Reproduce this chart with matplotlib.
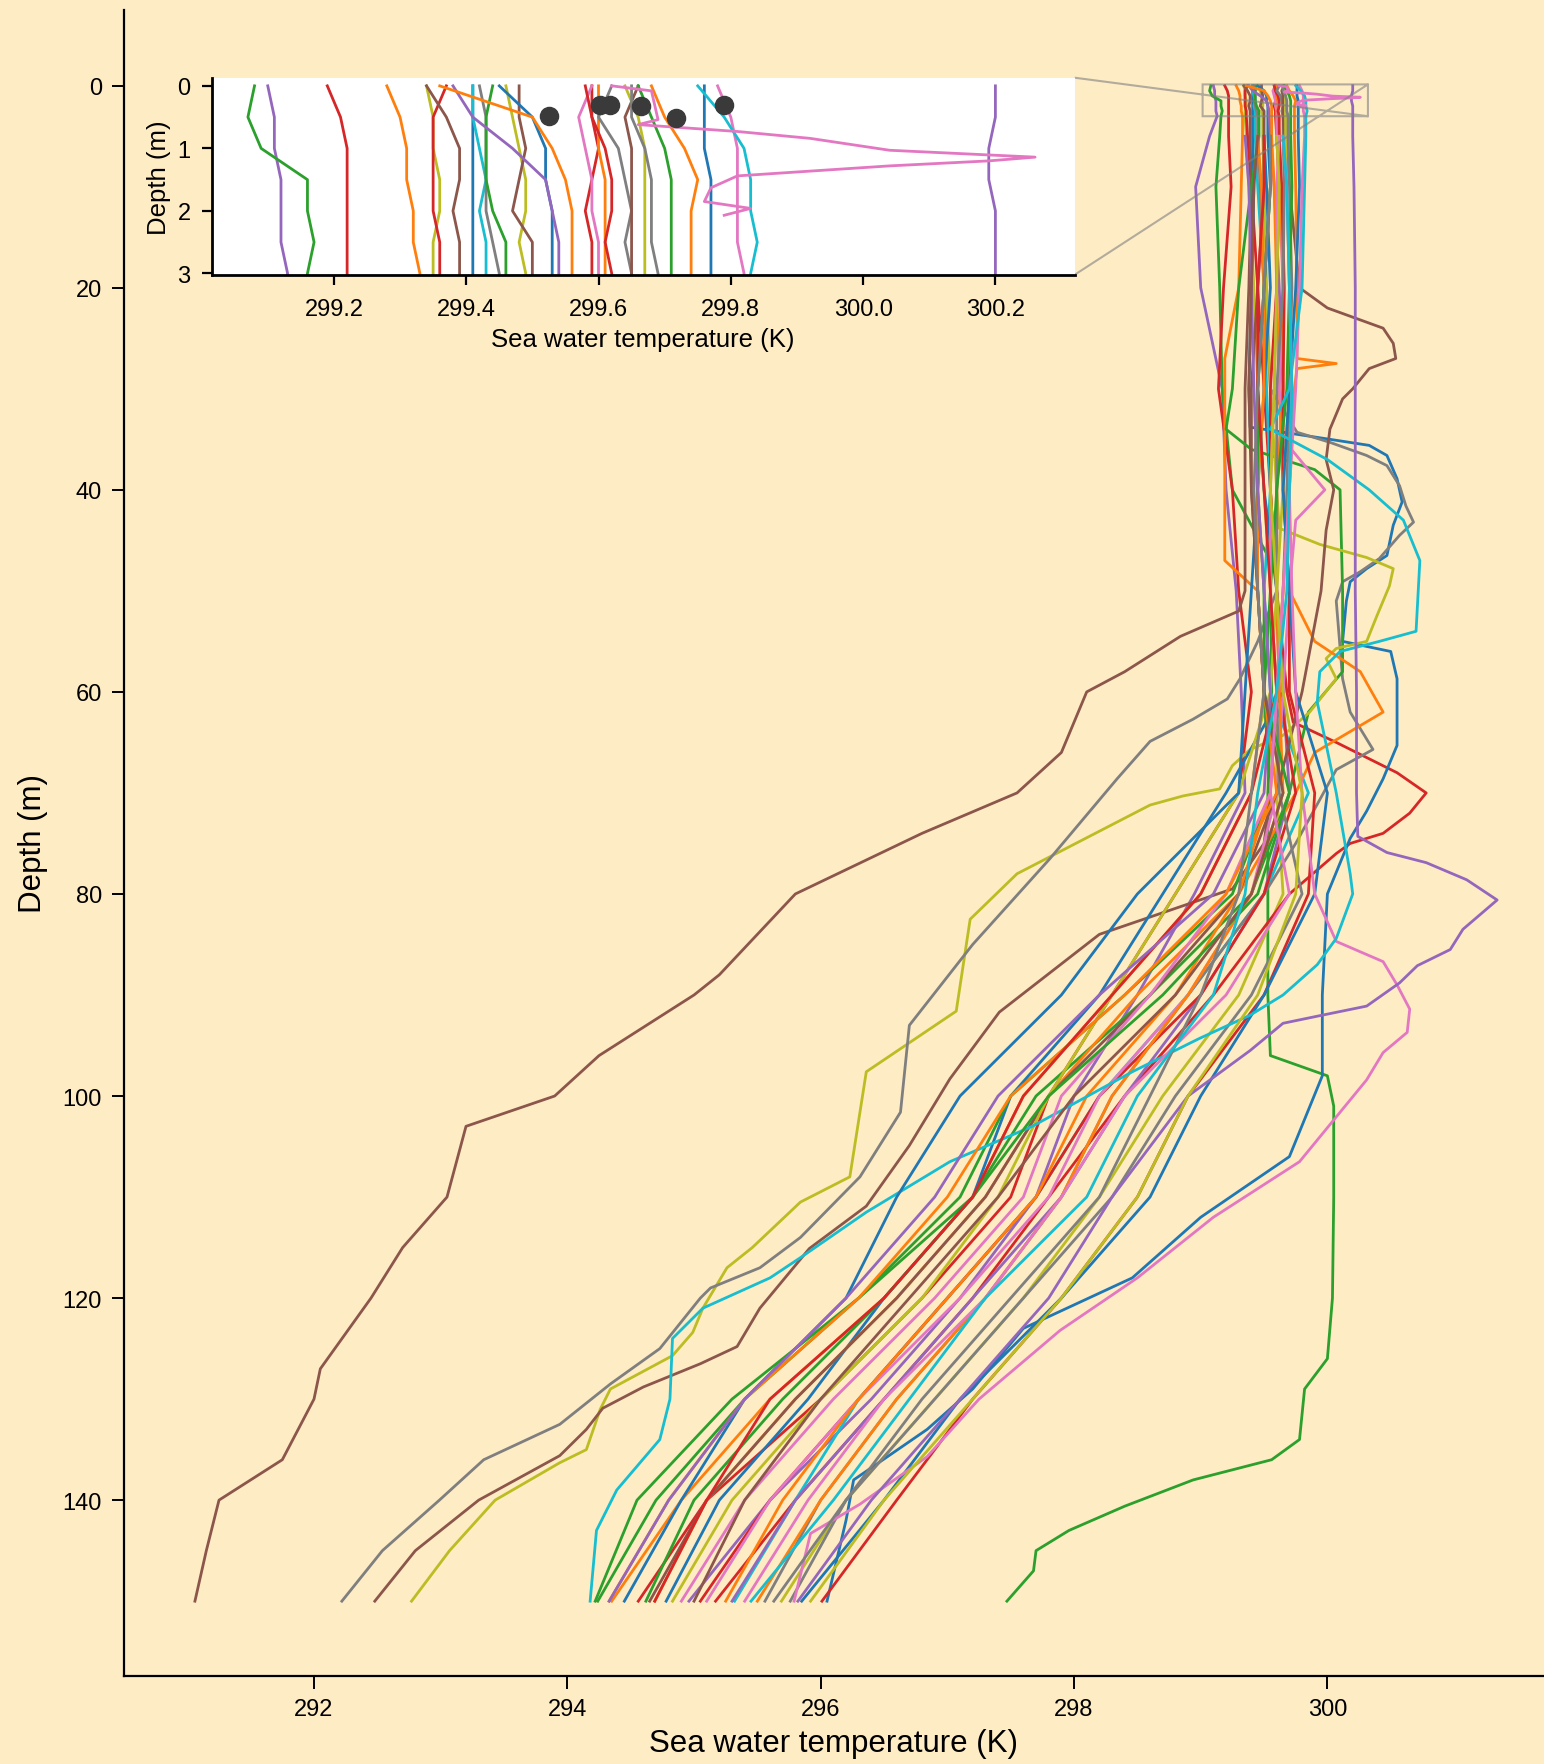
import numpy as np
import matplotlib.pyplot as plt

plt.rcParams['font.family'] = ['Liberation Sans', 'DejaVu Sans']

BG = '#FEECC5'

# depth levels (m)
surf_z = [0, 0.5, 1, 1.5, 2, 2.5, 3]
deep_z = [5, 10, 20, 30, 40, 50, 60, 70, 80, 90, 100, 110, 120, 130, 140, 150]

# ---- profiles on the standard levels: surface (0-3 m) and deep (5-150 m), K ----
purple_a_s = [299.10, 299.11, 299.11, 299.12, 299.12, 299.12, 299.13]
purple_a_d = [299.07, 298.96, 299.00, 299.17, 299.20, 299.28, 299.32, 299.35, 298.95, 298.50, 298.00, 297.70, 297.10, 296.40, 295.60, 294.96]
red_a_s = [299.19, 299.21, 299.22, 299.22, 299.22, 299.22, 299.22]
red_a_d = [299.22, 299.24, 299.18, 299.14, 299.25, 299.30, 299.40, 299.30, 298.80, 298.30, 297.80, 297.50, 296.80, 296.00, 295.10, 294.56]
olive_a_s = [299.34, 299.35, 299.35, 299.36, 299.36, 299.35, 299.35]
olive_a_d = [299.36, 299.38, 299.42, 299.45, 299.50, 299.55, 299.60, 299.60, 299.65, 299.30, 298.70, 298.20, 297.60, 296.90, 296.20, 295.69]
cyan_a_s = [299.41, 299.41, 299.42, 299.43, 299.42, 299.43, 299.43]
cyan_a_d = [299.43, 299.45, 299.50, 299.52, 299.55, 299.50, 299.55, 299.85, 299.50, 298.90, 298.20, 297.70, 297.00, 296.30, 295.80, 295.32]
blue_a_s = [299.45, 299.50, 299.52, 299.52, 299.53, 299.53, 299.53]
blue_a_d = [299.53, 299.55, 299.50, 299.45, 299.50, 299.60, 299.65, 299.20, 298.70, 298.20, 297.50, 297.20, 296.50, 295.90, 295.20, 294.78]
purple_b_s = [299.38, 299.41, 299.47, 299.52, 299.53, 299.54, 299.54]
purple_b_d = [299.55, 299.58, 299.62, 299.65, 299.60, 299.60, 299.65, 299.70, 299.50, 299.00, 298.40, 297.90, 297.20, 296.50, 295.80, 295.30]
red_b_s = [299.59, 299.59, 299.60, 299.59, 299.58, 299.59, 299.59]
red_b_d = [299.60, 299.62, 299.60, 299.55, 299.55, 299.60, 299.62, 299.75, 299.50, 299.00, 298.20, 297.70, 297.00, 296.30, 295.60, 295.05]
orange_b_s = [299.60, 299.60, 299.60, 299.61, 299.61, 299.61, 299.61]
orange_b_d = [299.62, 299.63, 299.65, 299.65, 299.60, 299.60, 299.62, 299.65, 299.40, 298.90, 298.30, 297.90, 297.30, 296.60, 296.00, 295.50]
red_c_s = [299.58, 299.59, 299.61, 299.62, 299.62, 299.61, 299.62]
red_c_d = [299.62, 299.64, 299.66, 299.65, 299.65, 299.70, 299.70, 299.90, 299.85, 299.50, 298.90, 298.50, 297.90, 297.20, 296.60, 296.01]
olive_b_s = [299.64, 299.66, 299.67, 299.67, 299.67, 299.67, 299.67]
olive_b_d = [299.67, 299.68, 299.70, 299.70, 299.65, 299.60, 299.55, 299.30, 298.80, 298.30, 297.80, 297.40, 296.80, 296.00, 295.30, 294.83]
grey_b_s = [299.65, 299.65, 299.67, 299.68, 299.68, 299.68, 299.69]
grey_b_d = [299.69, 299.70, 299.72, 299.70, 299.68, 299.65, 299.60, 299.62, 299.80, 299.40, 298.80, 298.30, 297.60, 296.90, 296.20, 295.76]
green_b_s = [299.66, 299.68, 299.70, 299.71, 299.71, 299.71, 299.71]
green_b_d = [299.71, 299.72, 299.70, 299.68, 299.60, 299.55, 299.50, 299.55, 299.25, 298.40, 297.50, 297.10, 296.30, 295.40, 294.70, 294.24]
blue_b_s = [299.76, 299.76, 299.76, 299.77, 299.77, 299.77, 299.77]
blue_b_d = [299.77, 299.78, 299.75, 299.70, 299.65, 299.70, 299.75, 300.00, 299.90, 299.50, 299.00, 298.60, 297.90, 297.10, 296.50, 295.85]

# profiles that start a little deeper (not in the inset)
blue_c_d = [299.50, 299.52, 299.55, 299.50, 299.45, 299.40, 299.35, 299.30, 298.50, 297.90, 297.10, 296.60, 296.20, 295.40, 294.90, 294.45]
orange_c_d = [299.45, 299.48, 299.50, 299.50, 299.45, 299.45, 299.50, 299.60, 299.20, 298.40, 297.50, 297.00, 296.30, 295.40, 294.80, 294.33]
green_c_d = [299.55, 299.55, 299.50, 299.45, 299.45, 299.50, 299.50, 299.70, 299.45, 298.70, 297.80, 297.20, 296.50, 295.70, 295.00, 294.62]
red_d_d = [299.50, 299.50, 299.45, 299.45, 299.50, 299.55, 299.60, 299.40, 299.00, 298.30, 297.60, 297.20, 296.50, 295.60, 295.10, 294.69]
purple_c_d = [299.35, 299.38, 299.40, 299.42, 299.45, 299.50, 299.55, 299.50, 299.10, 298.20, 297.40, 296.90, 296.20, 295.40, 294.80, 294.33]
brown_c_d = [299.45, 299.42, 299.40, 299.38, 299.40, 299.45, 299.50, 299.65, 299.40, 298.80, 298.00, 297.40, 296.70, 296.00, 295.40, 295.00]
pink_c_d = [299.65, 299.68, 299.70, 299.72, 299.70, 299.65, 299.60, 299.55, 299.70, 299.20, 298.40, 297.90, 297.30, 296.50, 295.90, 295.40]
grey_c_d = [299.55, 299.55, 299.50, 299.45, 299.42, 299.45, 299.50, 299.40, 299.30, 299.00, 298.60, 298.20, 297.50, 296.80, 296.20, 295.63]
olive_c_d = [299.60, 299.62, 299.60, 299.58, 299.55, 299.60, 299.65, 299.80, 299.75, 299.45, 298.90, 298.50, 297.90, 297.20, 296.50, 295.92]
cyan_c_d = [299.65, 299.68, 299.70, 299.72, 299.70, 299.68, 299.60, 299.45, 299.35, 299.10, 298.50, 298.10, 297.30, 296.70, 296.10, 295.45]

# ---- profiles with their own depth readings ----
green_long_s = [299.08, 299.07, 299.09, 299.16, 299.16, 299.17, 299.16]
green_long_z = [5, 10, 20, 30, 40, 47, 60, 70, 80, 90, 96, 98, 101, 110, 120, 126, 129, 134, 136, 138, 140.6, 143, 145, 147, 150]
green_long_t = [299.15, 299.12, 299.15, 299.17, 299.25, 299.55, 299.56, 299.53, 299.53, 299.53, 299.55, 300.00, 300.05, 300.05, 300.04, 300.00, 299.82, 299.78, 299.56, 298.94, 298.40, 297.96, 297.70, 297.68, 297.47]

orange_a_s = [299.28, 299.30, 299.31, 299.31, 299.32, 299.32, 299.33]
orange_a_z = [5, 10, 20, 27, 47, 50, 60, 70, 80, 90, 100, 110, 120, 130, 140, 150]
orange_a_t = [299.33, 299.32, 299.30, 299.19, 299.19, 299.45, 299.50, 299.40, 299.00, 298.30, 297.60, 297.20, 296.50, 295.60, 294.90, 294.35]

red_bump_s = [299.37, 299.35, 299.35, 299.35, 299.35, 299.36, 299.36]
red_bump_z = [5, 10, 20, 30, 40, 50, 60, 63, 65, 68, 70, 72, 74, 75, 76, 80, 90, 100, 110, 120, 130, 140, 150]
red_bump_t = [299.37, 299.40, 299.45, 299.50, 299.55, 299.60, 299.68, 299.73, 300.07, 300.55, 300.78, 300.65, 300.44, 300.18, 300.07, 299.70, 299.10, 298.40, 297.80, 297.20, 296.50, 295.80, 295.17]

brown_far_s = [299.34, 299.37, 299.39, 299.39, 299.38, 299.39, 299.39]
brown_far_z = [5, 10, 20, 30, 40, 50, 52, 54.5, 58, 60, 66, 70, 74, 80, 88, 90, 96, 100, 103, 110, 115, 120, 127, 130, 136, 140, 145, 150]
brown_far_t = [299.39, 299.40, 299.38, 299.35, 299.35, 299.35, 299.30, 298.84, 298.40, 298.10, 297.90, 297.55, 296.80, 295.80, 295.20, 295.00, 294.25, 293.90, 293.20, 293.05, 292.70, 292.45, 292.05, 292.00, 291.75, 291.25, 291.15, 291.06]

blue_exc_s = [299.41, 299.41, 299.41, 299.41, 299.41, 299.41, 299.41]
blue_exc_z = [5, 10, 20, 30, 33.8, 35, 35.6, 36.6, 38.9, 41.2, 43.5, 46.5, 47.8, 49.1, 51, 55, 56, 58.7, 65.3, 68.6, 71.8, 74.5, 80, 90, 98, 106, 112, 118, 123, 129, 133, 138, 142, 150]
blue_exc_t = [299.41, 299.42, 299.40, 299.38, 299.39, 300.02, 300.33, 300.47, 300.55, 300.59, 300.52, 300.47, 300.31, 300.18, 300.15, 300.12, 300.50, 300.55, 300.55, 300.44, 300.31, 300.18, 300.00, 299.96, 299.96, 299.70, 299.00, 298.46, 297.60, 297.20, 296.84, 296.26, 296.20, 296.05]

grey_bump_s = [299.42, 299.43, 299.43, 299.43, 299.43, 299.44, 299.45]
grey_bump_z = [5, 10, 20, 30, 34.3, 35.3, 36.6, 37.6, 39.6, 41.6, 43.2, 44.5, 46.8, 48.1, 49.1, 51, 58.7, 62, 65.7, 67.7, 75, 80, 90, 100, 110, 120, 130, 140, 150]
grey_bump_t = [299.45, 299.47, 299.50, 299.55, 299.76, 300.02, 300.31, 300.47, 300.57, 300.62, 300.68, 300.57, 300.41, 300.26, 300.12, 300.07, 300.12, 300.18, 300.36, 300.07, 299.75, 299.50, 298.90, 298.30, 297.90, 297.30, 296.60, 296.00, 295.56]

green_bump_s = [299.44, 299.43, 299.43, 299.43, 299.44, 299.46, 299.46]
green_bump_z = [5, 10, 20, 30, 34, 36, 38, 40, 50, 58, 62, 70, 80, 90, 100, 110, 120, 130, 140, 150]
green_bump_t = [299.46, 299.40, 299.30, 299.25, 299.20, 299.40, 299.90, 300.10, 300.12, 300.12, 299.85, 299.70, 299.40, 298.60, 297.70, 297.20, 296.30, 295.30, 294.55, 294.22]

olive_out_s = [299.46, 299.47, 299.48, 299.49, 299.49, 299.48, 299.49]
olive_out_z = [5, 10, 20, 30, 40, 43.8, 45.4, 46.7, 47.8, 49.5, 52.5, 55, 55.7, 56.7, 58.7, 62, 64.3, 65.7, 67.3, 69.6, 70.3, 71.2, 78, 82.5, 91.6, 97.6, 108, 110.5, 115, 117, 121, 123.4, 125.7, 129, 131, 135, 136.3, 140, 145, 150]
olive_out_t = [299.49, 299.50, 299.52, 299.55, 299.60, 299.62, 299.94, 300.31, 300.52, 300.49, 300.39, 300.31, 300.07, 299.99, 300.07, 299.86, 299.65, 299.39, 299.25, 299.15, 298.86, 298.60, 297.55, 297.18, 297.07, 296.36, 296.23, 295.84, 295.46, 295.26, 295.07, 294.99, 294.83, 294.34, 294.26, 294.15, 293.94, 293.43, 293.07, 292.77]

brown_out_s = [299.48, 299.48, 299.49, 299.48, 299.47, 299.50, 299.50]
brown_out_z = [5, 10, 20, 30, 40, 50, 60, 70, 75, 79.5, 84, 91.7, 98.3, 104.9, 110.9, 115.1, 121, 124.8, 126.5, 128.8, 130.9, 133, 135.6, 140, 145, 150]
brown_out_t = [299.50, 299.50, 299.45, 299.40, 299.40, 299.45, 299.50, 299.55, 299.50, 299.25, 298.20, 297.41, 297.02, 296.70, 296.36, 295.91, 295.52, 295.34, 295.05, 294.60, 294.28, 294.15, 293.94, 293.30, 292.80, 292.48]

orange_bump_s = [299.36, 299.50, 299.53, 299.55, 299.56, 299.56, 299.56]
orange_bump_z = [5, 10, 20, 30, 40, 50, 55, 58, 62, 66, 70, 80, 90, 100, 110, 120, 130, 140, 150]
orange_bump_t = [299.56, 299.58, 299.60, 299.62, 299.65, 299.70, 299.90, 300.26, 300.44, 299.90, 299.75, 299.30, 298.50, 297.80, 297.30, 296.60, 295.80, 295.10, 294.69]

pink_a_s = [299.59, 299.57, 299.58, 299.59, 299.59, 299.60, 299.60]
pink_a_z = [5, 10, 20, 30, 35, 40, 43, 50, 60, 70, 80, 90, 100, 110, 120, 130, 140, 150]
pink_a_t = [299.60, 299.62, 299.65, 299.62, 299.65, 299.98, 299.75, 299.70, 299.65, 299.60, 299.40, 298.90, 298.20, 297.80, 297.10, 296.30, 295.60, 295.10]

grey_out_s = [299.62, 299.60, 299.63, 299.64, 299.65, 299.64, 299.65]
grey_out_z = [5, 10, 20, 30, 40, 50, 55, 58.7, 60.7, 62.7, 64.9, 68.6, 76.5, 85, 93, 101.6, 108, 114, 117, 119, 120, 125, 128.5, 132.5, 136, 140, 145, 150]
grey_out_t = [299.65, 299.66, 299.65, 299.60, 299.60, 299.60, 299.45, 299.31, 299.21, 298.94, 298.60, 298.34, 297.81, 297.20, 296.70, 296.63, 296.31, 295.84, 295.52, 295.13, 295.05, 294.73, 294.34, 293.94, 293.34, 292.99, 292.54, 292.22]

brown_bump_s = [299.66, 299.64, 299.65, 299.65, 299.65, 299.65, 299.65]
brown_bump_z = [5, 10, 20, 22, 24, 25.5, 27, 28, 30, 31, 34, 37, 40, 44, 50, 60, 70, 80, 90, 100, 110, 120, 130, 140, 150]
brown_bump_t = [299.66, 299.70, 299.78, 300.00, 300.44, 300.52, 300.54, 300.33, 300.20, 300.12, 300.02, 299.99, 300.05, 299.99, 299.95, 299.80, 299.60, 299.30, 298.60, 297.80, 297.30, 296.60, 295.80, 295.10, 294.65]

orange_spike_s = [299.68, 299.70, 299.73, 299.75, 299.74, 299.74, 299.74]
orange_spike_z = [5, 10, 20, 27, 27.5, 28, 30, 40, 50, 60, 70, 80, 90, 100, 110, 120, 130, 140, 150]
orange_spike_t = [299.74, 299.75, 299.76, 299.76, 300.07, 299.76, 299.74, 299.70, 299.65, 299.60, 299.55, 299.30, 298.80, 298.10, 297.70, 297.00, 296.30, 295.70, 295.25]

pink_bump_s = [299.78, 299.80, 299.81, 299.81, 299.81, 299.81, 299.82]
pink_bump_z = [5, 10, 20, 30, 40, 50, 60, 70, 80, 84.7, 86.7, 89, 91.4, 93.7, 95.7, 98.4, 106.5, 112, 118, 123.2, 130, 135.7, 140.4, 143.3, 150]
pink_bump_t = [299.82, 299.80, 299.78, 299.75, 299.70, 299.72, 299.75, 299.80, 299.90, 300.07, 300.44, 300.55, 300.65, 300.63, 300.44, 300.31, 299.78, 299.10, 298.50, 297.89, 297.25, 296.84, 296.31, 295.92, 295.79]

cyan_bump_s = [299.75, 299.79, 299.82, 299.83, 299.83, 299.84, 299.83]
cyan_bump_z = [5, 10, 20, 30, 34, 37, 40, 43, 47, 54, 55, 56, 58, 61, 70, 78, 80, 84.4, 87, 90, 92, 94.3, 97.6, 103, 106.5, 111.5, 116, 118, 121, 124, 130, 134, 139, 143, 150]
cyan_bump_t = [299.83, 299.82, 299.80, 299.70, 299.55, 300.00, 300.33, 300.60, 300.73, 300.70, 300.41, 300.10, 299.94, 299.92, 300.07, 300.18, 300.20, 300.07, 299.92, 299.65, 299.39, 298.99, 298.46, 297.67, 297.02, 296.36, 295.84, 295.60, 295.07, 294.83, 294.81, 294.73, 294.39, 294.23, 294.18]

purple_bump_s = [300.20, 300.20, 300.19, 300.19, 300.20, 300.20, 300.20]
purple_bump_z = [5, 10, 20, 30, 40, 50, 60, 70, 74.3, 75.9, 76.9, 78.6, 80.6, 83.5, 85.5, 87.1, 88.8, 91.1, 92.1, 92.8, 95.5, 100, 110, 120, 130, 140, 150]
purple_bump_t = [300.20, 300.21, 300.22, 300.22, 300.22, 300.22, 300.23, 300.23, 300.24, 300.47, 300.78, 301.10, 301.34, 301.07, 300.97, 300.71, 300.57, 300.31, 299.92, 299.65, 299.39, 298.90, 298.30, 297.80, 297.10, 296.40, 295.82]

# pink profile with the near-surface spike; no readings between ~2 m and 5 m
pink_spike_sz = [0, 0.08, 0.54, 0.62, 0.73, 0.84, 1.03, 1.14, 1.2, 1.28, 1.44, 1.63, 1.85, 1.96, 2.07]
pink_spike_st = [299.62, 299.68, 299.69, 299.66, 299.81, 299.92, 300.04, 300.26, 300.19, 300.04, 299.81, 299.77, 299.76, 299.83, 299.79]
pink_spike_d = [299.62, 299.60, 299.60, 299.58, 299.55, 299.55, 299.60, 299.55, 299.20, 298.60, 297.90, 297.60, 296.90, 296.10, 295.40, 294.90]

# instrument positions marked in the inset
dot_temp = [299.525, 299.603, 299.618, 299.665, 299.717, 299.79]
dot_depth = [0.49, 0.31, 0.30, 0.33, 0.52, 0.30]

# (colour, depths, temperatures)
profiles = [
    ('C4', surf_z + deep_z, purple_a_s + purple_a_d),
    ('C2', surf_z + green_long_z, green_long_s + green_long_t),
    ('C3', surf_z + deep_z, red_a_s + red_a_d),
    ('C1', surf_z + orange_a_z, orange_a_s + orange_a_t),
    ('C8', surf_z + deep_z, olive_a_s + olive_a_d),
    ('C3', surf_z + red_bump_z, red_bump_s + red_bump_t),
    ('C5', surf_z + brown_far_z, brown_far_s + brown_far_t),
    ('C0', surf_z + blue_exc_z, blue_exc_s + blue_exc_t),
    ('C9', surf_z + deep_z, cyan_a_s + cyan_a_d),
    ('C7', surf_z + grey_bump_z, grey_bump_s + grey_bump_t),
    ('C2', surf_z + green_bump_z, green_bump_s + green_bump_t),
    ('C8', surf_z + olive_out_z, olive_out_s + olive_out_t),
    ('C5', surf_z + brown_out_z, brown_out_s + brown_out_t),
    ('C0', surf_z + deep_z, blue_a_s + blue_a_d),
    ('C4', surf_z + deep_z, purple_b_s + purple_b_d),
    ('C1', surf_z + orange_bump_z, orange_bump_s + orange_bump_t),
    ('C3', surf_z + deep_z, red_b_s + red_b_d),
    ('C6', surf_z + pink_a_z, pink_a_s + pink_a_t),
    ('C1', surf_z + deep_z, orange_b_s + orange_b_d),
    ('C3', surf_z + deep_z, red_c_s + red_c_d),
    ('C7', surf_z + grey_out_z, grey_out_s + grey_out_t),
    ('C5', surf_z + brown_bump_z, brown_bump_s + brown_bump_t),
    ('C8', surf_z + deep_z, olive_b_s + olive_b_d),
    ('C7', surf_z + deep_z, grey_b_s + grey_b_d),
    ('C2', surf_z + deep_z, green_b_s + green_b_d),
    ('C1', surf_z + orange_spike_z, orange_spike_s + orange_spike_t),
    ('C0', surf_z + deep_z, blue_b_s + blue_b_d),
    ('C6', surf_z + pink_bump_z, pink_bump_s + pink_bump_t),
    ('C9', surf_z + cyan_bump_z, cyan_bump_s + cyan_bump_t),
    ('C4', surf_z + purple_bump_z, purple_bump_s + purple_bump_t),
    ('C6', pink_spike_sz + [np.nan] + deep_z, pink_spike_st + [np.nan] + pink_spike_d),
    ('C0', deep_z, blue_c_d),
    ('C1', deep_z, orange_c_d),
    ('C2', deep_z, green_c_d),
    ('C3', deep_z, red_d_d),
    ('C4', deep_z, purple_c_d),
    ('C5', deep_z, brown_c_d),
    ('C6', deep_z, pink_c_d),
    ('C7', deep_z, grey_c_d),
    ('C8', deep_z, olive_c_d),
    ('C9', deep_z, cyan_c_d),
]

fig = plt.figure(figsize=(15.44, 17.65), dpi=100, facecolor=BG)

# main panel
ax = fig.add_axes([0.0803, 0.0499, 0.9197, 0.9439])
ax.set_facecolor(BG)
for color, z, t in profiles:
    ax.plot(t, z, color=color, lw=2.0)

ax.set_xlim(290.5, 301.71)
ax.set_ylim(157.4, -7.5)
ax.set_xticks([292, 294, 296, 298, 300])
ax.set_yticks([0, 20, 40, 60, 80, 100, 120, 140])
ax.spines['top'].set_visible(False)
ax.spines['right'].set_visible(False)
for s in ['left', 'bottom']:
    ax.spines[s].set_linewidth(1.6)
ax.tick_params(labelsize=17, length=9, width=1.4, pad=7)
ax.set_xlabel('Sea water temperature (K)', fontsize=22.5, labelpad=6)
ax.set_ylabel('Depth (m)', fontsize=22.5, labelpad=10)

# zoomed inset of the top 3 m
axins = fig.add_axes([0.137, 0.8438, 0.5591, 0.1116])
axins.set_facecolor('white')
for color, z, t in profiles:
    axins.plot(t, z, color=color, lw=2.0)
axins.scatter(dot_temp, dot_depth, s=170, color='#3a3a3a', zorder=5)
axins.set_xlim(299.015, 300.32)
axins.set_ylim(3.02, -0.13)
axins.set_xticks([299.2, 299.4, 299.6, 299.8, 300.0, 300.2])
axins.set_xticklabels(['299.2', '299.4', '299.6', '299.8', '300.0', '300.2'])
axins.set_yticks([0, 1, 2, 3])
axins.spines['top'].set_visible(False)
axins.spines['right'].set_visible(False)
for s in ['left', 'bottom']:
    axins.spines[s].set_linewidth(2)
axins.tick_params(labelsize=17, length=7, width=1.6)
axins.tick_params(axis='x', pad=10)
axins.tick_params(axis='y', pad=8)
axins.set_xlabel('Sea water temperature (K)', fontsize=18.5, labelpad=5)
axins.set_ylabel('Depth (m)', fontsize=18.5, labelpad=5)

ax.indicate_inset_zoom(axins, edgecolor='#808080', alpha=0.6, linewidth=1.5)

fig.savefig('out.png', dpi=100, facecolor=BG)
